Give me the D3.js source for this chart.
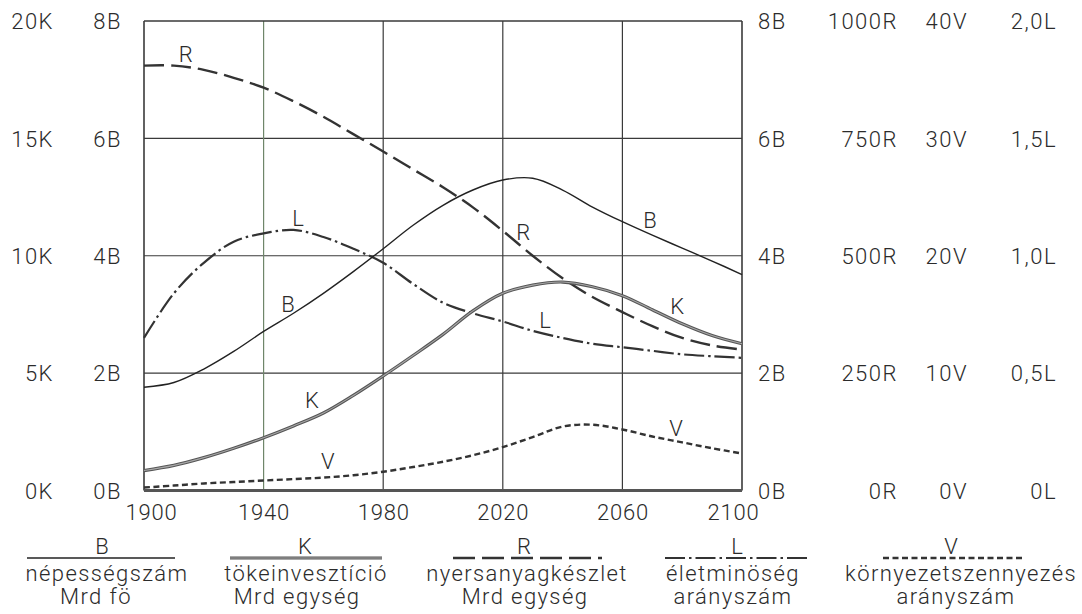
<!DOCTYPE html>
<html><head><meta charset="utf-8">
<script src="https://cdn.jsdelivr.net/npm/d3@7"></script>
<style>
html,body{margin:0;padding:0;background:#fff;}
svg text{font-family:Roboto,'DejaVu Sans',sans-serif;font-weight:300;fill:#2b2b2b;}
</style></head><body>
<svg id="c" width="1082" height="614"></svg>
<script>
// ---- data ----
const years = [1900,1910,1920,1930,1940,1950,1960,1970,1980,1990,2000,2010,2020,2030,2040,2050,2060,2070,2080,2090,2100];
// B: population, Mrd fő (0-8)
const popB  = [1.76,1.84,2.07,2.37,2.71,3.02,3.36,3.73,4.12,4.52,4.86,5.12,5.29,5.32,5.12,4.83,4.58,4.35,4.13,3.91,3.68];
// K: capital investment (0-20K)
const capK  = [0.85,1.07,1.4,1.8,2.25,2.75,3.3,4.05,4.88,5.75,6.65,7.65,8.4,8.75,8.88,8.68,8.3,7.7,7.1,6.6,6.25];
// R: resources (0-1000R)
const resR  = [905,905,896,879,858,829,796,759,722,684,646,603,553,500,452,412,380,350,325,309,300];
// L: quality of life (0-2,0L)
const lifeL = [0.65,0.84,0.97,1.06,1.095,1.11,1.08,1.03,0.97,0.88,0.80,0.755,0.72,0.68,0.65,0.625,0.61,0.595,0.58,0.572,0.565];
// V: pollution (0-40V)
const pollV = [0.25,0.42,0.6,0.72,0.85,0.97,1.1,1.3,1.6,2.0,2.45,3.0,3.7,4.55,5.45,5.6,5.2,4.6,4.1,3.6,3.15];

const xTicks = [1900,1940,1980,2020,2060,2100];
const kTicks = [0,5,10,15,20];
const bTicks = [0,2,4,6,8];
const rTicks = [0,250,500,750,1000];
const vTicks = [0,10,20,30,40];
const lTicks = [0,0.5,1,1.5,2];
const lTickLabels = ["0L","0,5L","1,0L","1,5L","2,0L"];

// curve letter annotations: [letter, year, value on B scale]
const curveLabels = [
  ["R",1914,7.43],["L",1951.5,4.65],["B",1948.2,3.17],["K",1956.2,1.54],["V",1961.5,0.50],
  ["B",2069.2,4.60],["R",2026.8,4.41],["K",2078.3,3.15],["L",2034.1,2.91],["V",2077.9,1.07]
];

const legendKeys  = ["B","K","R","L","V"];
const legendLine1 = ["népességszám","tökeinvesztíció","nyersanyagkészlet","életminöség","környezetszennyezés"];
const legendLine2 = ["Mrd fö","Mrd egység","Mrd egység","arányszám","arányszám"];

// ---- layout ----
const svg = d3.select("#c");
const L = 144, R = 742, T = 21, B = 490.5;
const x  = d3.scaleLinear([1900,2100],[L,R]);
const yB = d3.scaleLinear([0,8],[B,T]);
const yK = d3.scaleLinear([0,20],[B,T]);
const yR = d3.scaleLinear([0,1000],[B,T]);
const yV = d3.scaleLinear([0,40],[B,T]);
const yL = d3.scaleLinear([0,2],[B,T]);

// grid
const grid = svg.append("g");
grid.selectAll("line.h").data(bTicks.filter(d=>d>0 && d<8)).join("line")
  .attr("x1",L).attr("x2",R).attr("y1",d=>yB(d)).attr("y2",d=>yB(d))
  .attr("stroke","#3a3a3a").attr("stroke-width",1.2);
grid.selectAll("line.v").data(xTicks.slice(1,-1)).join("line")
  .attr("x1",d=>x(d)).attr("x2",d=>x(d)).attr("y1",T).attr("y2",B)
  .attr("stroke",d=>d===1940?"#6f866a":"#3a3a3a").attr("stroke-width",1.2);
// frame
svg.append("line").attr("x1",L).attr("x2",R).attr("y1",T).attr("y2",T).attr("stroke","#3a3a3a").attr("stroke-width",1.5);
svg.append("line").attr("x1",L).attr("x2",L).attr("y1",T).attr("y2",B).attr("stroke","#3a3a3a").attr("stroke-width",1.6);
svg.append("line").attr("x1",R).attr("x2",R).attr("y1",T).attr("y2",B).attr("stroke","#3a3a3a").attr("stroke-width",1.6);
svg.append("line").attr("x1",L).attr("x2",R).attr("y1",B).attr("y2",B).attr("stroke","#555").attr("stroke-width",3);

// axes labels
function styleAxis(g){
  g.attr("font-size",null).attr("font-family",null);
  g.select(".domain").remove();
  g.selectAll("text").attr("font-size",22).style("letter-spacing","1.5px").attr("dy","0.35em");
}
svg.append("g").attr("transform","translate(54,0)")
  .call(d3.axisLeft(yK).tickValues(kTicks).tickFormat(d=>d+"K").tickSize(0).tickPadding(0)).call(styleAxis);
svg.append("g").attr("transform","translate(122,0)")
  .call(d3.axisLeft(yB).tickValues(bTicks).tickFormat(d=>d+"B").tickSize(0).tickPadding(0)).call(styleAxis);
svg.append("g").attr("transform","translate(758,0)")
  .call(d3.axisRight(yB).tickValues(bTicks).tickFormat(d=>d+"B").tickSize(0).tickPadding(0)).call(styleAxis);
svg.append("g").attr("transform","translate(898,0)")
  .call(d3.axisLeft(yR).tickValues(rTicks).tickFormat(d=>d+"R").tickSize(0).tickPadding(0)).call(styleAxis);
svg.append("g").attr("transform","translate(968,0)")
  .call(d3.axisLeft(yV).tickValues(vTicks).tickFormat(d=>d+"V").tickSize(0).tickPadding(0)).call(styleAxis);
svg.append("g").attr("transform","translate(1057,0)")
  .call(d3.axisLeft(yL).tickValues(lTicks).tickFormat((d,i)=>lTickLabels[i]).tickSize(0).tickPadding(0)).call(styleAxis);

const xa = svg.append("g").attr("transform",`translate(0,${B})`)
  .call(d3.axisBottom(x).tickValues(xTicks).tickFormat(d3.format("d")).tickSize(0).tickPadding(14));
xa.attr("font-size",null).attr("font-family",null);
xa.select(".domain").remove();
xa.selectAll("text").attr("font-size",22).style("letter-spacing","0.8px")
  .attr("dx",d=>d===1900?7:(d===2100?-9:0));

// lines
const mk = (scale) => d3.line().x((d,i)=>x(years[i])).y(d=>scale(d)).curve(d3.curveCatmullRom.alpha(0.5));
const plot = svg.append("g");
plot.append("path").attr("d",mk(yV)(pollV)).attr("fill","none").attr("stroke","#333").attr("stroke-width",2.4).attr("stroke-dasharray","6,3.5");
plot.append("path").attr("d",mk(yL)(lifeL)).attr("fill","none").attr("stroke","#333").attr("stroke-width",2.2).attr("stroke-dasharray","20,4,2.5,4");
plot.append("path").attr("d",mk(yR)(resR)).attr("fill","none").attr("stroke","#333").attr("stroke-width",2.4).attr("stroke-dasharray","20,7");
plot.append("path").attr("d",mk(yK)(capK)).attr("fill","none").attr("stroke","#555").attr("stroke-width",3.2);
plot.append("path").attr("d",mk(yK)(capK)).attr("fill","none").attr("stroke","#a8a8a8").attr("stroke-width",1.1);
plot.append("path").attr("d",mk(yB)(popB)).attr("fill","none").attr("stroke","#222").attr("stroke-width",1.4);

// curve letters
svg.append("g").selectAll("text").data(curveLabels).join("text")
  .attr("x",d=>x(d[1])).attr("y",d=>yB(d[2])).attr("text-anchor","middle").attr("dy","0.36em")
  .attr("font-size",22).text(d=>d[0]);

// legend
const legKeyX = [102,305,524,737,951];
const legText1X = [107,306,527,733,961];
const legText2X = [96,297,525,733,956];
const legLine = [[27,175],[230,382],[453,602],[665,810],[883,1025]];
const legStyle = [
  {w:1.4,c:"#222",dash:null},
  {w:3.2,c:"#555",dash:null,inner:true},
  {w:2.4,c:"#333",dash:"22,7"},
  {w:2.2,c:"#333",dash:"20,4,2.5,4"},
  {w:2.4,c:"#333",dash:"6,3.5"}
];
const lg = svg.append("g");
legendKeys.forEach((k,i)=>{
  lg.append("text").attr("x",legKeyX[i]).attr("y",546).attr("dy","0.36em")
    .attr("text-anchor","middle").attr("font-size",22).text(k);
  const s = legStyle[i];
  const ln = lg.append("line").attr("x1",legLine[i][0]).attr("x2",legLine[i][1]).attr("y1",558).attr("y2",558)
    .attr("stroke",s.c).attr("stroke-width",s.w);
  if(s.dash) ln.attr("stroke-dasharray",s.dash);
  if(s.inner) lg.append("line").attr("x1",legLine[i][0]).attr("x2",legLine[i][1]).attr("y1",558).attr("y2",558)
    .attr("stroke","#a8a8a8").attr("stroke-width",1.1);
  lg.append("text").attr("x",legText1X[i]).attr("y",581).attr("text-anchor","middle")
    .attr("font-size",22).style("letter-spacing","1.4px").text(legendLine1[i]);
  lg.append("text").attr("x",legText2X[i]).attr("y",604).attr("text-anchor","middle")
    .attr("font-size",22).style("letter-spacing","1.4px").text(legendLine2[i]);
});
</script>
</body></html>
